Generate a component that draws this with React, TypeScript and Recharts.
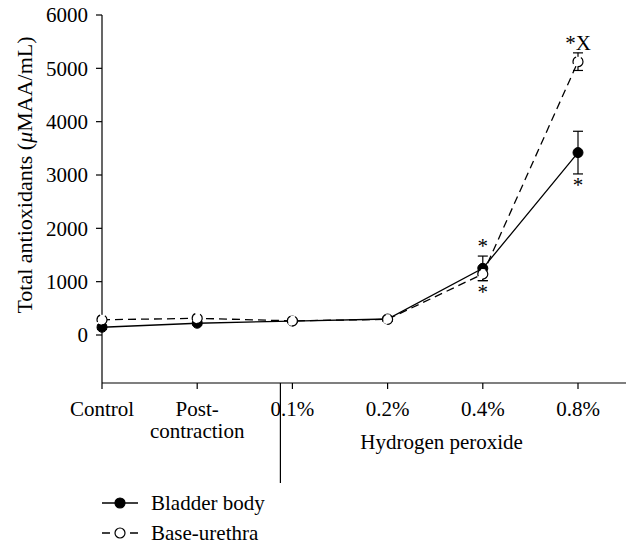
import React from "react";
import {
  LineChart,
  Line,
  XAxis,
  YAxis,
  ErrorBar,
  ReferenceDot,
  Legend,
} from "recharts";

const categories = ["Control", "Post-\ncontraction", "0.1%", "0.2%", "0.4%", "0.8%"];
const bladderBody = [145, 220, 262, 300, 1250, 3420];
const bladderBodyErr = [40, 30, 20, 30, 230, 400];
const baseUrethra = [285, 313, 265, 294, 1144, 5125];
const baseUrethraErr = [30, 30, 20, 40, 125, 165];
const yTicks = [0, 1000, 2000, 3000, 4000, 5000, 6000];

// significance marks: category, value the mark sits next to, text, side
const marks = [
  { cat: "0.4%", value: bladderBody[4] + bladderBodyErr[4], text: "*", side: "top" },
  { cat: "0.4%", value: baseUrethra[4] - baseUrethraErr[4], text: "*", side: "bottom" },
  { cat: "0.8%", value: baseUrethra[5] + baseUrethraErr[5], text: "*X", side: "top" },
  { cat: "0.8%", value: bladderBody[5] - bladderBodyErr[5], text: "*", side: "bottom" },
];

const data = categories.map((cat, i) => ({
  cat,
  body: bladderBody[i],
  bodyErr: bladderBodyErr[i],
  urethra: baseUrethra[i],
  urethraErr: baseUrethraErr[i],
}));

const FONT = "'Liberation Serif', 'Times New Roman', serif";
const FS = 21;

function CategoryTick(props: any) {
  const { x, y, payload, index } = props;
  const lines = String(payload.value).split("\n");
  return (
    <g>
      <text x={x} y={y + 25} textAnchor="middle" fontFamily={FONT} fontSize={FS} fill="#000">
        {lines.map((l, i) => (
          <tspan key={i} x={x} dy={i === 0 ? 0 : 22}>
            {l}
          </tspan>
        ))}
      </text>
      {index === 2 && (
        <line x1={x - 12} x2={x - 12} y1={y - 8} y2={y + 92} stroke="#000" strokeWidth={1.2} />
      )}
      {index === 3 && (
        <text x={x + 54} y={y + 58} textAnchor="middle" fontFamily={FONT} fontSize={FS} fill="#000">
          Hydrogen peroxide
        </text>
      )}
    </g>
  );
}

function renderYLabel(props: any) {
  const vb = props.viewBox;
  const cx = vb.x + 24;
  const cy = vb.y + 160;
  return (
    <text
      x={cx}
      y={cy}
      transform={`rotate(-90, ${cx}, ${cy})`}
      textAnchor="middle"
      dominantBaseline="central"
      fontFamily={FONT}
      fontSize={22}
      fill="#000"
    >
      <tspan>Total antioxidants (</tspan>
      <tspan fontStyle="italic">μ</tspan>
      <tspan>MAA/mL)</tspan>
    </text>
  );
}

function LegendContent() {
  const items = [
    { name: "Bladder body", filled: true },
    { name: "Base-urethra", filled: false },
  ];
  return (
    <div style={{ fontFamily: FONT, fontSize: FS, color: "#000" }}>
      {items.map((it) => (
        <div key={it.name} style={{ display: "flex", alignItems: "center", height: 30 }}>
          <svg width={49} height={16}>
            {it.filled ? (
              <line x1={0} x2={36} y1={8} y2={8} stroke="#000" strokeWidth={1.5} />
            ) : (
              <>
                <line x1={0} x2={8} y1={8} y2={8} stroke="#000" strokeWidth={1.5} />
                <line x1={28} x2={36} y1={8} y2={8} stroke="#000" strokeWidth={1.5} />
              </>
            )}
            <circle cx={18} cy={8} r={5} fill={it.filled ? "#000" : "#fff"} stroke="#000" strokeWidth={1.2} />
          </svg>
          <span>{it.name}</span>
        </div>
      ))}
    </div>
  );
}

export default function App() {
  return (
    <div style={{ position: "absolute", left: 0, top: 0 }}>
      <LineChart
        width={627}
        height={548}
        data={data}
        margin={{ top: 15, right: 1, bottom: 0, left: 0 }}
      >
        <XAxis
          dataKey="cat"
          height={165}
          padding={{ left: 0, right: 48 }}
          axisLine={{ stroke: "#000", strokeWidth: 1.2 }}
          tickLine={{ stroke: "#000", strokeWidth: 1.2 }}
          tickSize={6}
          tick={<CategoryTick />}
          interval={0}
        />
        <XAxis
          xAxisId="top"
          orientation="top"
          dataKey="cat"
          height={0}
          tick={false}
          tickLine={false}
          axisLine={{ stroke: "#000", strokeWidth: 1.2 }}
        />
        <YAxis
          domain={[-900, 6000]}
          ticks={yTicks}
          width={102}
          tickSize={6}
          tickMargin={8}
          axisLine={{ stroke: "#000", strokeWidth: 1.2 }}
          tickLine={{ stroke: "#000", strokeWidth: 1.2 }}
          tick={{ fontFamily: FONT, fontSize: FS, fill: "#000" }}
          label={renderYLabel}
        />
        <YAxis
          yAxisId="right"
          orientation="right"
          width={0}
          tick={false}
          tickLine={false}
          axisLine={{ stroke: "#000", strokeWidth: 1.2 }}
        />
        <Legend
          layout="vertical"
          align="center"
          verticalAlign="middle"
          content={<LegendContent />}
          wrapperStyle={{ left: 102, top: 488, width: 300, height: 60 }}
        />
        <Line
          dataKey="body"
          name="Bladder body"
          stroke="#000"
          strokeWidth={1.3}
          dot={{ r: 5, fill: "#000", stroke: "#000", strokeWidth: 1 }}
          activeDot={false}
          isAnimationActive={false}
        >
          <ErrorBar dataKey="bodyErr" width={5} stroke="#000" strokeWidth={1.2} />
        </Line>
        <Line
          dataKey="urethra"
          name="Base-urethra"
          stroke="#000"
          strokeWidth={1.3}
          strokeDasharray="8 5"
          dot={{ r: 5, fill: "#fff", stroke: "#000", strokeWidth: 1.2 }}
          activeDot={false}
          isAnimationActive={false}
        >
          <ErrorBar dataKey="urethraErr" width={5} stroke="#000" strokeWidth={1.2} />
        </Line>
        {marks.map((m, i) => (
          <ReferenceDot
            key={i}
            x={m.cat}
            y={m.value}
            r={0}
            fill="none"
            stroke="none"
            label={{
              value: m.text,
              position: m.side as any,
              offset: 3,
              fontFamily: FONT,
              fontSize: FS,
              fill: "#000",
            }}
          />
        ))}
      </LineChart>
    </div>
  );
}
